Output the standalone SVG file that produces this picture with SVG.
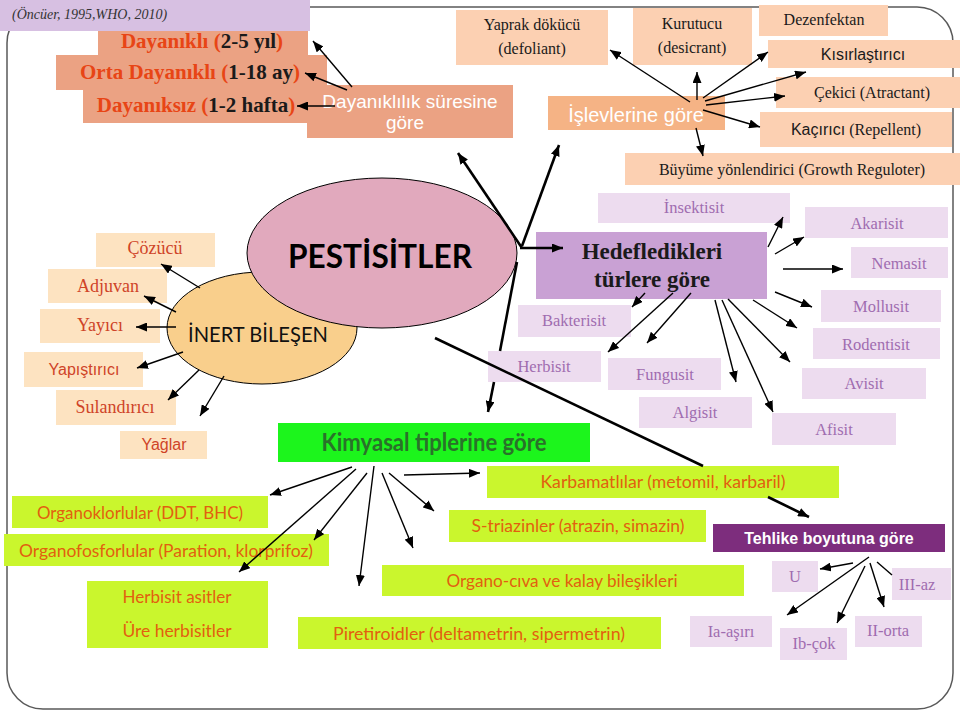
<svg xmlns="http://www.w3.org/2000/svg" width="960" height="712" viewBox="0 0 960 712">
<style>
.sal{fill:#eba283}
.pch{fill:#fcd0b2}
.isl{fill:#f5b385}
.lav{fill:#eddcef}
.inb{fill:#fde3c1}
.yg{fill:#caf62d}
.serif{font-family:"Liberation Serif","DejaVu Serif",serif}
.sans{font-family:"Liberation Sans",Arial,sans-serif}
.cal{font-family:Lato,"Liberation Sans",sans-serif}
.blk{fill:#1a1a1a}
.pur{fill:#a06cb0;font-size:16.5px}
.red{fill:#cf4428}
.or{fill:#e2600f;font-size:18px}
.wh{fill:#ffffff}
.dur{font-family:"Liberation Serif","DejaVu Serif",serif;font-weight:bold;font-size:21px}
.c line,.c path{stroke:#000;stroke-width:1.4;fill:none}
.c .thk{stroke-width:2.6}
.m{marker-end:url(#ah)}
</style>
<defs>
<marker id="ah" markerUnits="userSpaceOnUse" markerWidth="11" markerHeight="9" refX="11" refY="4.5" orient="auto">
<path d="M0,0 L11,4.5 L0,9 z" fill="#000"/>
</marker>
</defs>

<rect x="7" y="7" width="946" height="702" rx="36" fill="none" stroke="#595959" stroke-width="1.5"/>

<g id="citation">
<rect x="0" y="0" width="310" height="31" fill="#d7c0e2"/>
<text x="12" y="19" class="serif" font-style="italic" font-size="14" fill="#333">(Öncüer, 1995,WHO, 2010)</text>
</g>

<g id="n-dayanikli">
<rect x="98" y="31" width="210" height="25" class="sal"/>
<text x="202" y="48" class="dur" text-anchor="middle"><tspan fill="#e84515">Dayanıklı (</tspan><tspan fill="#1a1a1a">2-5 yıl</tspan><tspan fill="#e84515">)</tspan></text>
</g>
<g id="n-orta">
<rect x="56" y="55" width="271" height="35" class="sal"/>
<text x="190" y="79" class="dur" text-anchor="middle"><tspan fill="#e84515">Orta Dayanıklı (</tspan><tspan fill="#1a1a1a">1-18 ay</tspan><tspan fill="#e84515">)</tspan></text>
</g>
<g id="n-dayaniksiz">
<rect x="83" y="90" width="225" height="33" class="sal"/>
<text x="196" y="112" class="dur" text-anchor="middle"><tspan fill="#e84515">Dayanıksız (</tspan><tspan fill="#1a1a1a">1-2 hafta</tspan><tspan fill="#e84515">)</tspan></text>
</g>
<g id="n-dayaniklilik">
<rect x="307" y="85" width="206" height="53" class="sal"/>
<text x="410" y="108" class="sans wh" font-size="19" text-anchor="middle">Dayanıklılık süresine</text>
<text x="405" y="129" class="sans wh" font-size="19" text-anchor="middle">göre</text>
</g>

<g id="n-yaprak">
<rect x="456" y="10" width="152" height="55" class="pch"/>
<text x="532" y="30" class="serif blk" font-size="16" text-anchor="middle">Yaprak dökücü</text>
<text x="532" y="54" class="serif blk" font-size="16" text-anchor="middle">(defoliant)</text>
</g>
<g id="n-kurutucu">
<rect x="633" y="8" width="119" height="57" class="pch"/>
<text x="692" y="29" class="serif blk" font-size="16" text-anchor="middle">Kurutucu</text>
<text x="692" y="53" class="serif blk" font-size="16" text-anchor="middle">(desicrant)</text>
</g>
<g id="n-dezenfektan">
<rect x="759" y="5" width="129" height="31" class="pch"/>
<text x="824" y="25" class="serif blk" font-size="16" text-anchor="middle">Dezenfektan</text>
</g>
<g id="n-kisir">
<rect x="768" y="40" width="192" height="28" class="pch"/>
<text x="863" y="60" class="sans blk" font-size="16" text-anchor="middle">Kısırlaştırıcı</text>
</g>
<g id="n-cekici">
<rect x="776" y="77" width="184" height="31" class="pch"/>
<text x="872" y="98" class="serif blk" font-size="16" text-anchor="middle">Çekici (Atractant)</text>
</g>
<g id="n-kacirici">
<rect x="760" y="112" width="192" height="35" class="pch"/>
<text x="856" y="135" font-size="16" text-anchor="middle" class="blk"><tspan class="sans">Kaçırıcı</tspan><tspan class="serif"> (Repellent)</tspan></text>
</g>
<g id="n-buyume">
<rect x="625" y="153" width="335" height="32" class="pch"/>
<text x="792" y="175" class="serif blk" font-size="16" text-anchor="middle">Büyüme yönlendirici (Growth Reguloter)</text>
</g>
<g id="n-islev">
<rect x="548" y="96" width="177" height="34" class="isl"/>
<text x="636" y="122" class="sans wh" font-size="20" text-anchor="middle">İşlevlerine göre</text>
</g>

<g id="n-inert">
<ellipse cx="262" cy="328" rx="95" ry="56" fill="#f9cf8c" stroke="#000" stroke-width="1"/>
<text x="258" y="342" class="cal" font-size="21" fill="#111" text-anchor="middle" textLength="140" lengthAdjust="spacingAndGlyphs">İNERT BİLEŞEN</text>
</g>
<g id="n-pestisitler">
<ellipse cx="382" cy="253" rx="135" ry="75" fill="#e1a9bd" stroke="#000" stroke-width="1"/>
<text x="380" y="268" class="cal" font-weight="bold" font-size="32" fill="#000" text-anchor="middle" textLength="184" lengthAdjust="spacingAndGlyphs">PESTİSİTLER</text>
</g>

<g id="n-cozucu">
<rect x="96" y="233" width="119" height="34" class="inb"/>
<text x="155" y="254" class="serif red" font-size="18" text-anchor="middle">Çözücü</text>
</g>
<g id="n-adjuvan">
<rect x="48" y="269" width="119" height="34" class="inb"/>
<text x="108" y="292" class="serif red" font-size="18" text-anchor="middle">Adjuvan</text>
</g>
<g id="n-yayici">
<rect x="40" y="309" width="120" height="34" class="inb"/>
<text x="100" y="331" class="serif red" font-size="18" text-anchor="middle">Yayıcı</text>
</g>
<g id="n-yapistirici">
<rect x="24" y="352" width="119" height="35" class="inb"/>
<text x="84" y="375" class="sans red" font-size="16" text-anchor="middle">Yapıştırıcı</text>
</g>
<g id="n-sulandirici">
<rect x="56" y="390" width="120" height="35" class="inb"/>
<text x="115" y="413" class="serif red" font-size="18" text-anchor="middle">Sulandırıcı</text>
</g>
<g id="n-yaglar">
<rect x="120" y="431" width="87" height="28" class="inb"/>
<text x="164" y="450" class="sans red" font-size="16" text-anchor="middle">Yağlar</text>
</g>

<g id="n-hedef">
<rect x="536" y="232" width="231" height="67" fill="#c9a1d4"/>
<text x="652" y="259" class="serif blk" font-weight="bold" font-size="23" text-anchor="middle">Hedefledikleri</text>
<text x="652" y="287" class="serif blk" font-weight="bold" font-size="23" text-anchor="middle">türlere göre</text>
</g>
<g id="n-insektisit">
<rect x="598" y="193" width="192" height="30" class="lav"/>
<text x="694" y="213" class="serif pur" text-anchor="middle">İnsektisit</text>
</g>
<g id="n-bakterisit">
<rect x="518" y="305" width="113" height="32" class="lav"/>
<text x="574" y="326" class="serif pur" text-anchor="middle">Bakterisit</text>
</g>
<g id="n-herbisit">
<rect x="488" y="351" width="113" height="31" class="lav"/>
<text x="544" y="372" class="serif pur" text-anchor="middle">Herbisit</text>
</g>
<g id="n-fungusit">
<rect x="608" y="358" width="113" height="32" class="lav"/>
<text x="665" y="380" class="serif pur" text-anchor="middle">Fungusit</text>
</g>
<g id="n-algisit">
<rect x="639" y="397" width="113" height="31" class="lav"/>
<text x="695" y="418" class="serif pur" text-anchor="middle">Algisit</text>
</g>
<g id="n-akarisit">
<rect x="805" y="207" width="143" height="31" class="lav"/>
<text x="877" y="229" class="serif pur" text-anchor="middle">Akarisit</text>
</g>
<g id="n-nemasit">
<rect x="851" y="247" width="97" height="31" class="lav"/>
<text x="899" y="269" class="serif pur" text-anchor="middle">Nemasit</text>
</g>
<g id="n-mollusit">
<rect x="821" y="290" width="120" height="32" class="lav"/>
<text x="881" y="312" class="serif pur" text-anchor="middle">Mollusit</text>
</g>
<g id="n-rodentisit">
<rect x="813" y="328" width="127" height="31" class="lav"/>
<text x="876" y="350" class="serif pur" text-anchor="middle">Rodentisit</text>
</g>
<g id="n-avisit">
<rect x="802" y="368" width="124" height="31" class="lav"/>
<text x="864" y="389" class="serif pur" text-anchor="middle">Avisit</text>
</g>
<g id="n-afisit">
<rect x="772" y="413" width="124" height="32" class="lav"/>
<text x="834" y="435" class="serif pur" text-anchor="middle">Afisit</text>
</g>

<g id="n-kimyasal">
<rect x="278" y="423" width="312" height="39" fill="#1cf51c"/>
<text x="434" y="451" class="cal" font-weight="bold" font-size="24" fill="#2a722a" text-anchor="middle" textLength="225" lengthAdjust="spacingAndGlyphs">Kimyasal tiplerine göre</text>
</g>
<g id="n-karbamat">
<rect x="487" y="466" width="352" height="32" class="yg"/>
<text x="663" y="488" class="cal or" text-anchor="middle" textLength="245" lengthAdjust="spacingAndGlyphs">Karbamatlılar (metomil, karbaril)</text>
</g>
<g id="n-striazin">
<rect x="449" y="510" width="257" height="32" class="yg"/>
<text x="578" y="532" class="cal or" text-anchor="middle" textLength="213" lengthAdjust="spacingAndGlyphs">S-triazinler (atrazin, simazin)</text>
</g>
<g id="n-organocival">
<rect x="382" y="565" width="362" height="31" class="yg"/>
<text x="562" y="587" class="cal or" text-anchor="middle" textLength="231" lengthAdjust="spacingAndGlyphs">Organo-cıva ve kalay bileşikleri</text>
</g>
<g id="n-piretiroid">
<rect x="298" y="617" width="363" height="32" class="yg"/>
<text x="479" y="640" class="cal or" text-anchor="middle" textLength="292" lengthAdjust="spacingAndGlyphs">Piretiroidler (deltametrin, sipermetrin)</text>
</g>
<g id="n-organoklor">
<rect x="12" y="496" width="256" height="32" class="yg"/>
<text x="140" y="519" class="cal or" text-anchor="middle" textLength="206" lengthAdjust="spacingAndGlyphs">Organoklorlular (DDT, BHC)</text>
</g>
<g id="n-organofosfor">
<rect x="4" y="534" width="325" height="32" class="yg"/>
<text x="166" y="557" class="cal or" text-anchor="middle" textLength="294" lengthAdjust="spacingAndGlyphs">Organofosforlular (Paration, klorprifoz)</text>
</g>
<g id="n-herbisitasit">
<rect x="87" y="581" width="181" height="67" class="yg"/>
<text x="177" y="603" class="cal or" text-anchor="middle" textLength="109" lengthAdjust="spacingAndGlyphs">Herbisit asitler</text>
<text x="177" y="637" class="cal or" text-anchor="middle" textLength="109" lengthAdjust="spacingAndGlyphs">Üre herbisitler</text>
</g>

<g id="n-tehlike">
<rect x="713" y="524" width="232" height="28" fill="#7d2d7d"/>
<text x="829" y="544" class="sans wh" font-weight="bold" font-size="16" text-anchor="middle">Tehlike boyutuna göre</text>
</g>
<g id="n-u">
<rect x="772" y="561" width="46" height="31" class="lav"/>
<text x="795" y="582" class="serif pur" text-anchor="middle">U</text>
</g>
<g id="n-iiiaz">
<rect x="892" y="568" width="59" height="32" class="lav"/>
<text x="917" y="590" class="serif pur" text-anchor="middle">III-az</text>
</g>
<g id="n-iaasiri">
<rect x="690" y="616" width="82" height="31" class="lav"/>
<text x="731" y="637" class="serif pur" text-anchor="middle">Ia-aşırı</text>
</g>
<g id="n-ibcok">
<rect x="780" y="628" width="67" height="32" class="lav"/>
<text x="814" y="649" class="serif pur" text-anchor="middle">Ib-çok</text>
</g>
<g id="n-iiorta">
<rect x="855" y="616" width="67" height="31" class="lav"/>
<text x="888" y="636" class="serif pur" text-anchor="middle">II-orta</text>
</g>

<g id="connectors" class="c">
<line x1="352" y1="87" x2="313" y2="41" class="m"/>
<line x1="347" y1="90" x2="305" y2="73" class="m"/>
<line x1="335" y1="106" x2="297" y2="106" class="m"/>
<line x1="690" y1="102" x2="610" y2="50" class="m"/>
<line x1="697" y1="100" x2="697" y2="72" class="m"/>
<line x1="703" y1="98" x2="768" y2="52" class="m"/>
<line x1="705" y1="101" x2="806" y2="72" class="m"/>
<line x1="706" y1="105" x2="785" y2="96" class="m"/>
<line x1="703" y1="110" x2="760" y2="127" class="m"/>
<line x1="696" y1="128" x2="703" y2="156" class="m"/>
<line x1="522" y1="248" x2="458" y2="153" class="m thk"/>
<line x1="522" y1="246" x2="559" y2="145" class="m thk"/>
<line x1="520" y1="248" x2="563" y2="248" class="m thk"/>
<line x1="517" y1="262" x2="500" y2="351" class="thk"/>
<line x1="494" y1="382" x2="488" y2="412" class="m thk"/>
<line x1="435" y1="338" x2="703" y2="466" class="thk"/>
<line x1="768" y1="497" x2="809" y2="517" class="m thk"/>
<line x1="200" y1="288" x2="161" y2="264" class="m"/>
<line x1="176" y1="312" x2="144" y2="296" class="m"/>
<line x1="176" y1="327" x2="136" y2="327" class="m"/>
<line x1="183" y1="352" x2="137" y2="368" class="m"/>
<line x1="199" y1="370" x2="168" y2="400" class="m"/>
<line x1="224" y1="376" x2="200" y2="416" class="m"/>
<line x1="768" y1="247" x2="783" y2="217" class="m"/>
<line x1="775" y1="254" x2="804" y2="237" class="m"/>
<line x1="783" y1="269" x2="843" y2="269" class="m"/>
<line x1="775" y1="292" x2="812" y2="307" class="m"/>
<line x1="753" y1="300" x2="797" y2="328" class="m"/>
<line x1="728" y1="299" x2="790" y2="362" class="m"/>
<line x1="722" y1="300" x2="773" y2="412" class="m"/>
<line x1="715" y1="300" x2="736" y2="382" class="m"/>
<line x1="691" y1="293" x2="647" y2="343" class="m"/>
<line x1="673" y1="293" x2="608" y2="352" class="m"/>
<line x1="645" y1="293" x2="632" y2="307" class="m"/>
<line x1="352" y1="467" x2="270" y2="495" class="m"/>
<line x1="356" y1="469" x2="239" y2="572" class="m"/>
<line x1="367" y1="473" x2="314" y2="540" class="m"/>
<line x1="374" y1="466" x2="359" y2="586" class="m"/>
<line x1="382" y1="473" x2="413" y2="548" class="m"/>
<line x1="389" y1="473" x2="434" y2="511" class="m"/>
<line x1="404" y1="475" x2="480" y2="473" class="m"/>
<line x1="853" y1="563" x2="820" y2="569" class="m"/>
<line x1="869" y1="557" x2="787" y2="615" class="m"/>
<line x1="865" y1="566" x2="837" y2="623" class="m"/>
<line x1="870" y1="563" x2="884" y2="607" class="m"/>
<line x1="877" y1="562" x2="892" y2="575"/>
</g>
</svg>
